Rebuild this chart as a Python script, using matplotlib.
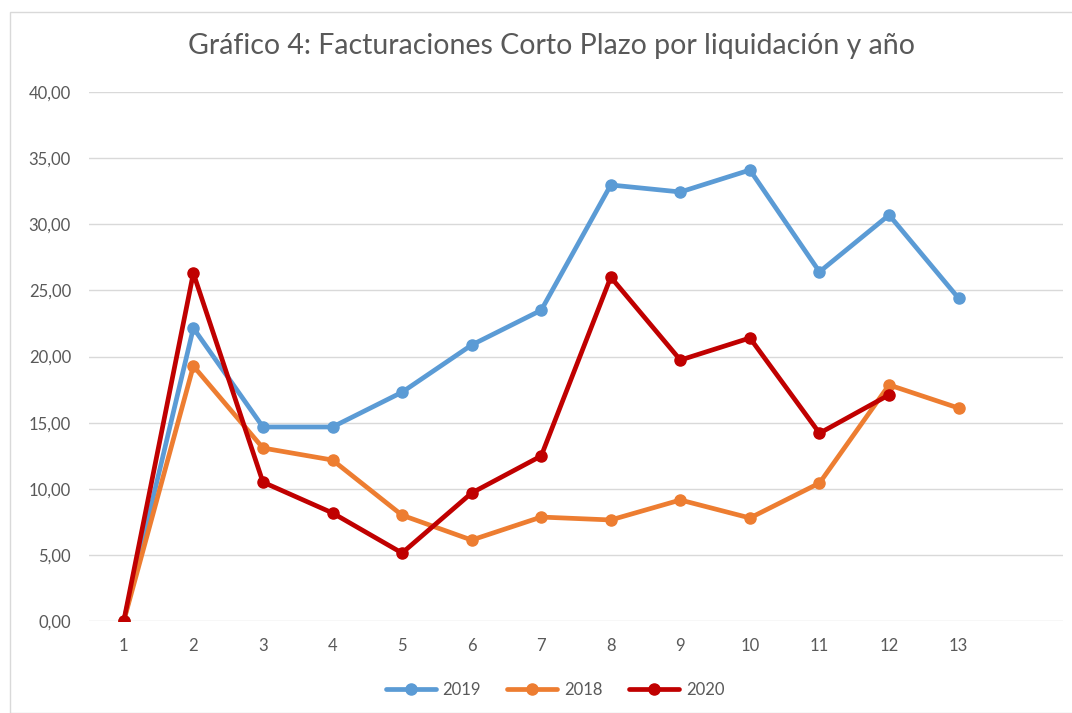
import matplotlib
matplotlib.use("Agg")
import matplotlib.pyplot as plt
from matplotlib.patches import Rectangle

x_2019 = [1, 2, 3, 4, 5, 6, 7, 8, 9, 10, 11, 12, 13]
v_2019 = [0.0, 22.15, 14.67, 14.67, 17.3, 20.87, 23.5, 32.97, 32.44, 34.1, 26.4, 30.7, 24.4]
x_2018 = [1, 2, 3, 4, 5, 6, 7, 8, 9, 10, 11, 12, 13]
v_2018 = [0.0, 19.28, 13.08, 12.17, 8.0, 6.12, 7.86, 7.64, 9.15, 7.79, 10.43, 17.85, 16.1]
x_2020 = [1, 2, 3, 4, 5, 6, 7, 8, 9, 10, 11, 12]
v_2020 = [0.0, 26.3, 10.5, 8.17, 5.14, 9.68, 12.48, 26.0, 19.73, 21.4, 14.2, 17.1]
x_ticks = list(range(1, 14))
y_ticks = [0, 5, 10, 15, 20, 25, 30, 35, 40]
title = "Gráfico 4: Facturaciones Corto Plazo por liquidación y año"

plt.rcParams['font.family'] = ['Lato', 'DejaVu Sans']
text_col = '#595959'

W, H = 1072, 713
fig = plt.figure(figsize=(W/100, H/100), dpi=100)
fig.patches.append(Rectangle((10/W, 0), 1.2, 1 - 12/H, transform=fig.transFigure,
                             fill=False, edgecolor='#D9D9D9', linewidth=1))
ax = fig.add_axes([89/W, 1 - 621/H, (1063-89)/W, (621-92)/H])

for xs, vs, col, lab in [(x_2019, v_2019, '#5B9BD5', '2019'),
                         (x_2018, v_2018, '#ED7D31', '2018'),
                         (x_2020, v_2020, '#C00000', '2020')]:
    ax.plot(xs, vs, color=col, linewidth=3.4, marker='o', markersize=8,
            label=lab, solid_capstyle='round', solid_joinstyle='round')

ax.set_xlim(0.5, 14.5)
ax.set_ylim(0, 40)
ax.set_xticks(x_ticks)
ax.set_xticklabels([str(t) for t in x_ticks])
ax.set_yticks(y_ticks)
ax.set_yticklabels([f"{t:.2f}".replace('.', ',') for t in y_ticks])
ax.tick_params(axis='both', length=0, colors=text_col, labelsize=12)
ax.tick_params(axis='x', pad=12)
ax.tick_params(axis='y', pad=13)
ax.grid(axis='y', color='#D9D9D9', linewidth=1)
ax.set_axisbelow(True)
for s in ax.spines.values():
    s.set_visible(False)

fig.text(551/W, 1 - 46/H, title, ha='center', va='center', fontsize=20.5, color=text_col)

leg = fig.legend(loc='center', bbox_to_anchor=(555/W, 1 - 690/H), ncol=3, frameon=False,
                 fontsize=12, handlelength=3.0, columnspacing=1.6, handletextpad=0.4)
for t in leg.get_texts():
    t.set_color(text_col)

fig.savefig('out.png', dpi=100)
